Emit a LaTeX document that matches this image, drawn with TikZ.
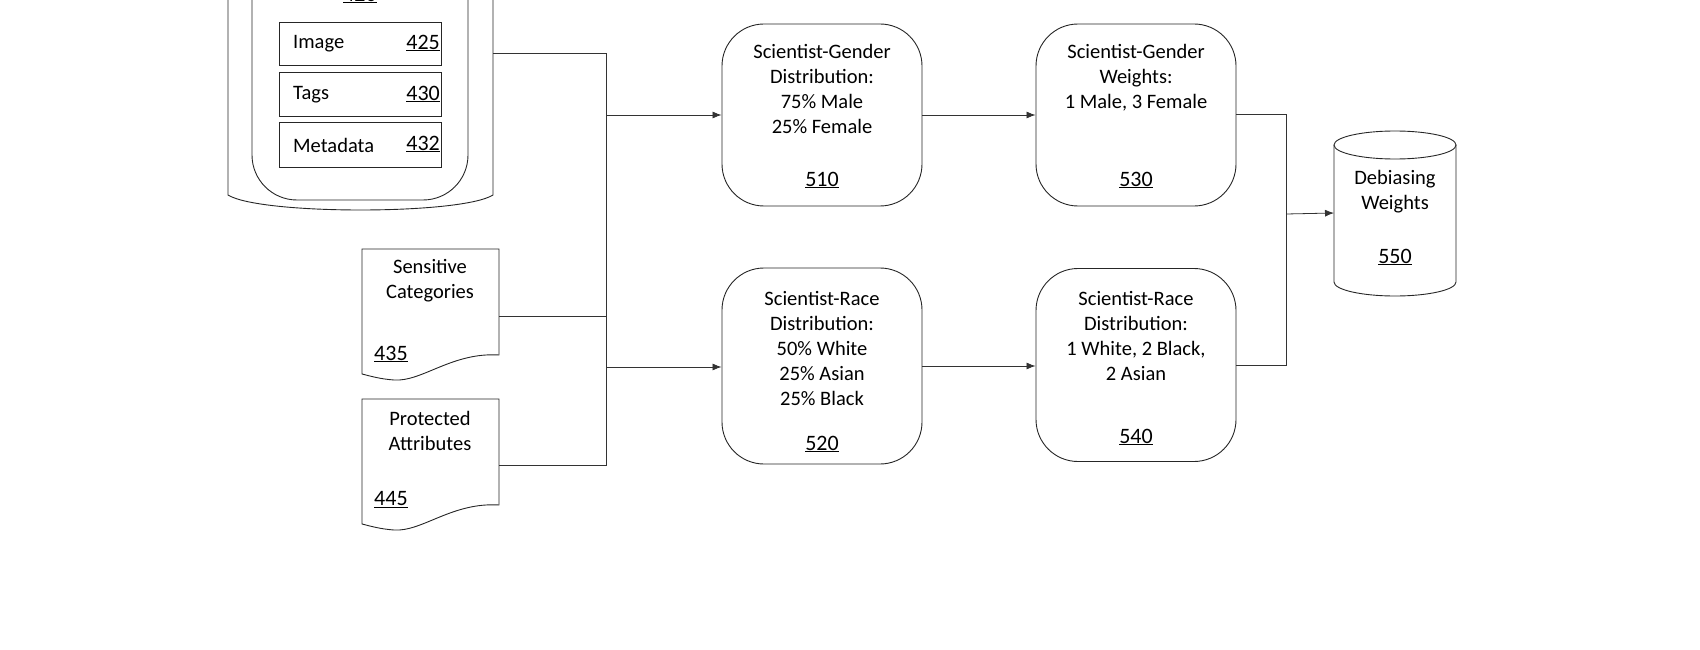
\documentclass[tikz,border=0pt]{standalone}
\usepackage{fontspec}
\setmainfont{Carlito}
\usetikzlibrary{arrows.meta}
\begin{document}
\begin{tikzpicture}[x=1pt,y=-1pt,
  ln/.style={line width=0.9pt,black!85},
  conn/.style={line width=0.8pt,black!80},
  arr/.style={conn,-{Latex[length=9pt,width=7pt]}},
  rbox/.style={draw,ln,rounded corners=42pt,minimum width=200pt,align=center},
  ibox/.style={draw,ln,minimum width=162pt,minimum height=44pt},
  txt/.style={font=\fontsize{20.5}{25}\selectfont,align=center,inner sep=0pt},
  ul/.style={font=\fontsize{22}{25}\selectfont,inner sep=0pt}
]
\useasboundingbox (0,0) rectangle (1700,650);
\begin{scope}
\clip (0,0) rectangle (1700,650);
\draw[ln] (228,-40) -- (228,195) .. controls (260,215) and (461,215) .. (493,195) -- (493,-40);
\draw[ln,rounded corners=45pt] (252,-60) rectangle (468,200);
\node[ul] (l420) at (360,-5) {\underline{420}};
\end{scope}
\node[ibox,minimum height=43pt] (img) at (360,43.5) {};
\node[txt,anchor=west] at (293,44) {Image};
\node[ul,anchor=east] at (440,43) {\underline{425}};
\node[ibox] (tags) at (360,94) {};
\node[txt,anchor=west] at (293,95) {Tags};
\node[ul,anchor=east] at (440,94) {\underline{430}};
\node[ibox,minimum height=45pt] (meta) at (360,144.5) {};
\node[txt,anchor=west] at (293,145) {Metadata};
\node[ul,anchor=east] at (440,144) {\underline{432}};
\coordinate (c420) at (493,53);
% documents
\draw[ln] (362,249) -- (499,249) -- (499,355) .. controls (452,352) and (422,382) .. (394,380) .. controls (380,379) and (370,376) .. (362,374) -- cycle;
\node[txt] (sens) at (430,281) {Sensitive\\Categories};
\node[ul,anchor=west] at (374,354) {\underline{435}};
\coordinate (csens) at (499,316);
\draw[ln] (362,399) -- (499,399) -- (499,505) .. controls (452,502) and (422,532) .. (394,530) .. controls (380,529) and (370,526) .. (362,524) -- cycle;
\node[txt] (prot) at (430,431) {Protected\\Attributes};
\node[ul,anchor=west] at (374,500) {\underline{445}};
\coordinate (cprot) at (499,465);
% boxes
\node[rbox,minimum height=182pt] (b510) at (822,115) {};
\node[txt,anchor=north] at (822,44) {Scientist-Gender\\Distribution:\\75\% Male\\25\% Female};
\node[ul] at (822,180) {\underline{510}};
\node[rbox,minimum height=182pt] (b530) at (1136,115) {};
\node[txt,anchor=north] at (1136,44) {Scientist-Gender\\Weights:\\1 Male, 3 Female};
\node[ul] at (1136,180) {\underline{530}};
\node[rbox,minimum height=196pt] (b520) at (822,366) {};
\node[txt,anchor=north] at (822,291) {Scientist-Race\\Distribution:\\50\% White\\25\% Asian\\25\% Black};
\node[ul] at (822,444) {\underline{520}};
\node[rbox,minimum height=193pt] (b540) at (1136,365) {};
\node[txt,anchor=north] at (1136,291) {Scientist-Race\\Distribution:\\1 White, 2 Black,\\2 Asian};
\node[ul] at (1136,437) {\underline{540}};
% cylinder
\coordinate (b550) at (1334,213);
\draw[ln] (1395,145) ellipse [x radius=61, y radius=14];
\draw[ln] (1334,145) -- (1334,282) arc[start angle=180,end angle=360,x radius=61,y radius=-14] -- (1456,145);
\node[txt] at (1395,192) {Debiasing\\Weights};
\node[ul] at (1395,257) {\underline{550}};
% connectors
\coordinate (j1) at (606,53);
\draw[conn] (c420) -- (j1) -- (606,465) -- (cprot);
\draw[conn] (csens) -- (606,316);
\draw[arr] (606,115) -- (b510.west |- 0,115);
\draw[arr] (606,367) -- (b520.west |- 0,367);
\draw[arr] (b510.east |- 0,115) -- (b530.west |- 0,115);
\draw[arr] (b520.east |- 0,366) -- (b540.west |- 0,366);
\draw[conn] (b530.east |- 0,114) -- (1286,114) -- (1286,365) -- (b540.east |- 0,365);
\draw[arr] (1286,214) -- (b550);
\end{tikzpicture}
\end{document}
